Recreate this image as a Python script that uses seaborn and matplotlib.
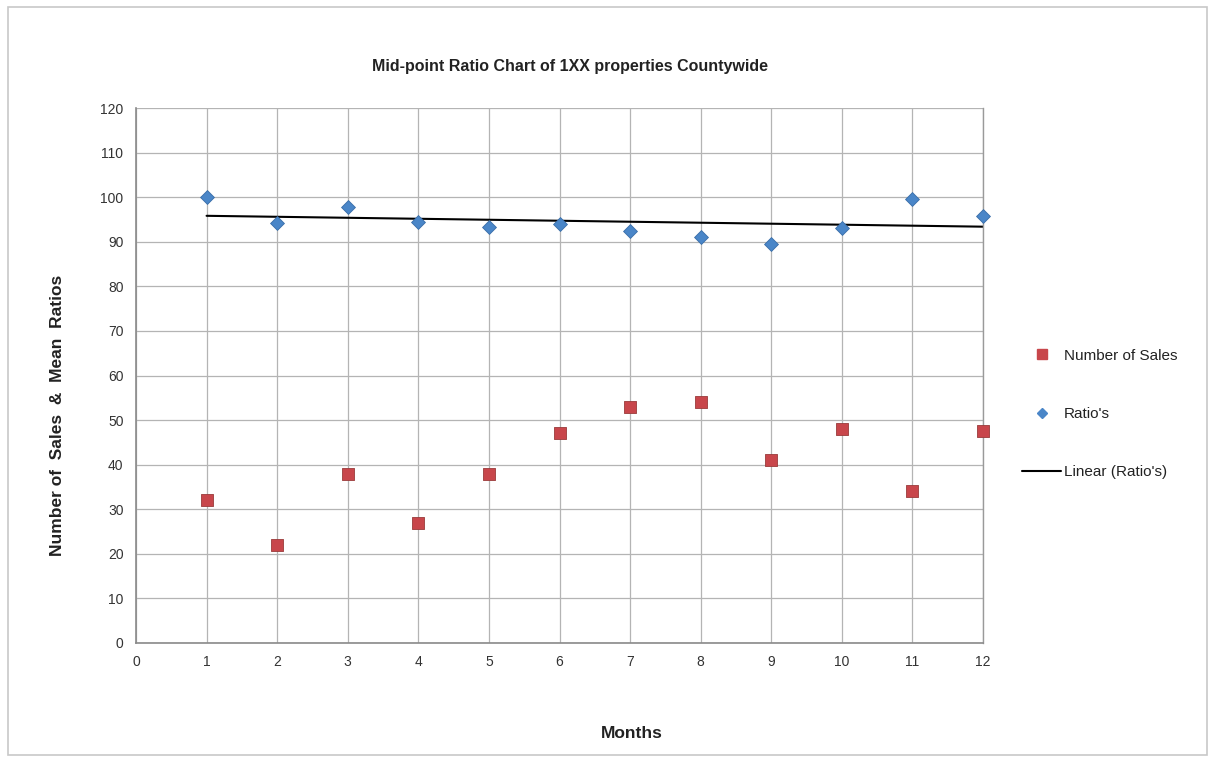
import matplotlib
matplotlib.use("Agg")
import matplotlib.pyplot as plt
import seaborn as sns
import pandas as pd
import numpy as np
from matplotlib.lines import Line2D
from matplotlib.patches import Rectangle

months = [1, 2, 3, 4, 5, 6, 7, 8, 9, 10, 11, 12]
number_of_sales = [32, 22, 38, 27, 38, 47, 53, 54, 41, 48, 34, 47.5]
ratios = [100.0, 94.3, 97.7, 94.5, 93.2, 94.0, 92.4, 91.1, 89.5, 93.0, 99.7, 95.8]
x_ticks = list(range(0, 13))
y_ticks = list(range(0, 121, 10))

df = pd.DataFrame({"Month": months, "Sales": number_of_sales, "Ratio": ratios})

sns.set_style("white")
plt.rcParams["font.family"] = ["Liberation Sans", "DejaVu Sans"]

fig = plt.figure(figsize=(12.15, 7.61), dpi=100)
fig.patch.set_facecolor("white")
fig.patches.append(Rectangle((8 / 1215, 6 / 761), 1199 / 1215, 748 / 761,
                             transform=fig.transFigure, fill=False,
                             edgecolor="#c8c8c8", linewidth=1.2))

ax = fig.add_axes([136 / 1215, 1 - 643 / 761, (983 - 136) / 1215, (643 - 108) / 761])

red = "#C8464B"
blue = "#4A86C8"

sns.regplot(data=df, x="Month", y="Ratio", scatter=False, ci=None, ax=ax,
            line_kws=dict(color="black", linewidth=1.5), truncate=True)
sns.scatterplot(data=df, x="Month", y="Sales", marker="s", s=65, color=red,
                edgecolor="#9a3a3a", linewidth=0.6, ax=ax, zorder=3)
sns.scatterplot(data=df, x="Month", y="Ratio", marker="D", s=50, color=blue,
                edgecolor="#3a6ea8", linewidth=0.6, ax=ax, zorder=3)
for coll in ax.collections:
    coll.set_clip_on(False)

ax.set_xlim(0, 12)
ax.set_ylim(0, 120)
ax.set_xticks(x_ticks)
ax.set_yticks(y_ticks)
ax.grid(True, color="#b4b4b4", linewidth=0.9)
ax.set_axisbelow(True)
ax.spines["top"].set_visible(False)
ax.spines["right"].set_color("#9a9a9a")
ax.spines["right"].set_linewidth(1.0)
for side in ["left", "bottom"]:
    ax.spines[side].set_color("#8a8a8a")
    ax.spines[side].set_linewidth(1.2)
ax.tick_params(axis="both", labelsize=10, colors="#333333", length=0, pad=9)
ax.set_xlabel("")
ax.set_ylabel("")

fig.text(570 / 1215, 1 - 66 / 761, "Mid-point Ratio Chart of 1XX properties Countywide",
         ha="center", va="center", fontsize=11.5, fontweight="bold", color="#222222")
fig.text(632 / 1215, 1 - 733 / 761, "Months", ha="center", va="center",
         fontsize=12.5, fontweight="bold", color="#222222")
fig.text(58 / 1215, 1 - 415 / 761, "Number of  Sales  &  Mean  Ratios", ha="center",
         va="center", rotation=90, fontsize=12.5, fontweight="bold", color="#222222")

handles = [
    Line2D([], [], marker="s", linestyle="none", color=red, markersize=6.5),
    Line2D([], [], marker="D", linestyle="none", color=blue, markersize=5),
    Line2D([], [], color="black", linewidth=1.5),
]
labels = ["Number of Sales", "Ratio's", "Linear (Ratio's)"]
fig.legend(handles, labels, loc="center left", bbox_to_anchor=(1008 / 1215, 1 - 414 / 761),
           frameon=False, fontsize=11, labelspacing=2.9, handlelength=2.6,
           handletextpad=0.15, labelcolor="#222222")

fig.savefig("out.png", dpi=100)
